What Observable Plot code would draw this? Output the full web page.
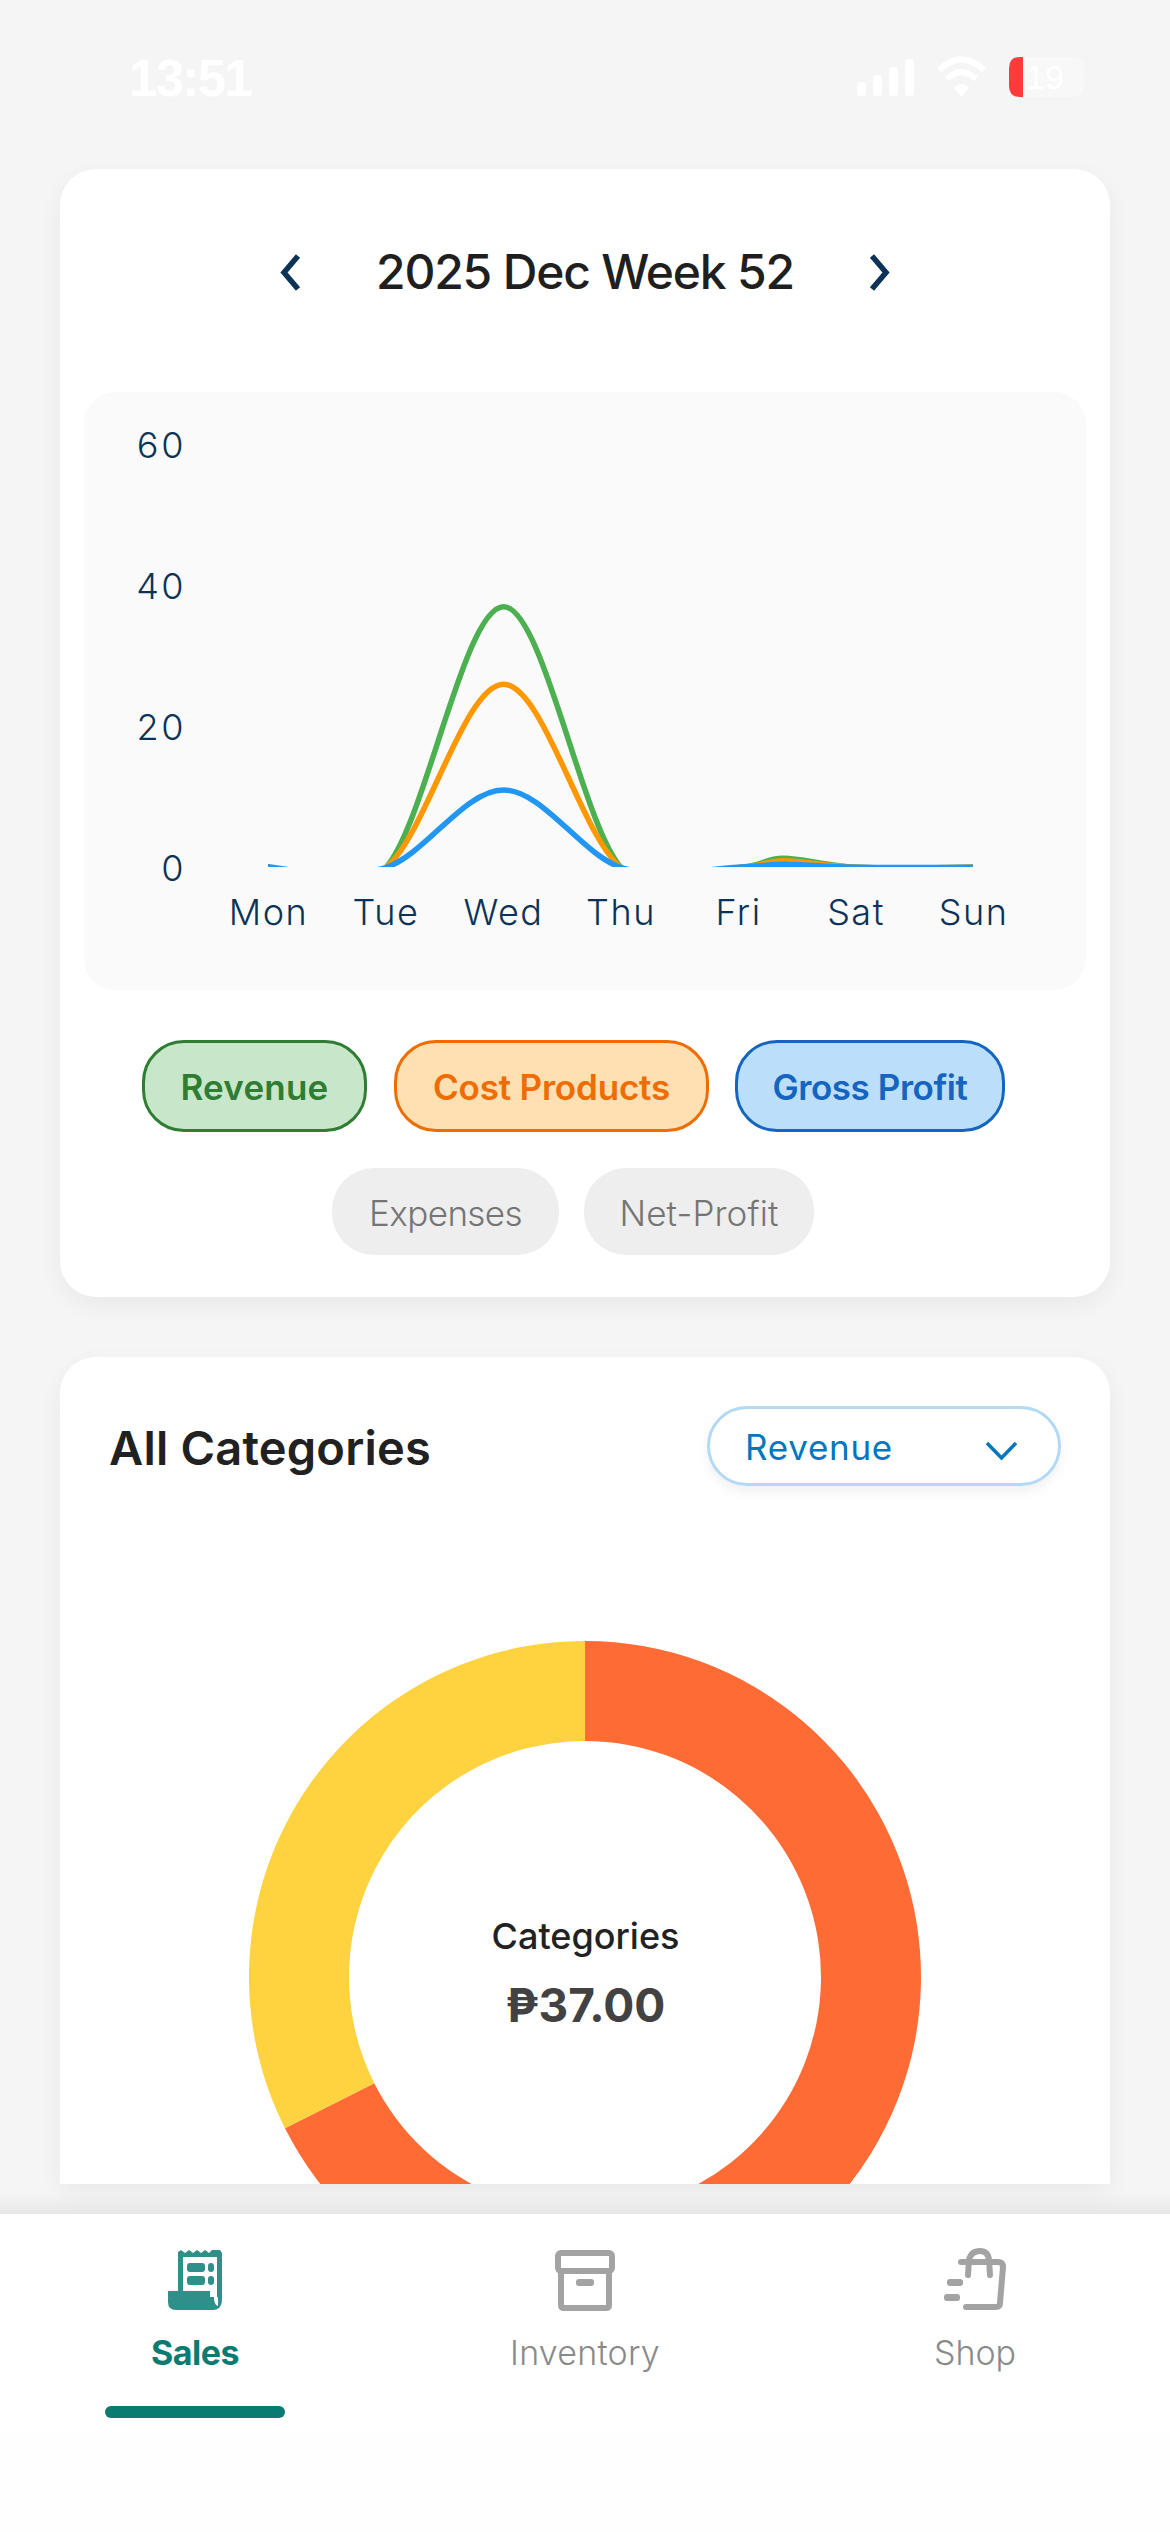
<!DOCTYPE html>
<html>
<head>
<meta charset="utf-8">
<script src="https://cdn.jsdelivr.net/npm/d3@7"></script>
<script src="https://cdn.jsdelivr.net/npm/@observablehq/plot@0.6"></script>
<style>
html,body{margin:0;padding:0;background:#f5f5f5;}
body{position:relative;width:1170px;height:2532px;overflow:hidden;font-family:Inter,"Noto Sans",sans-serif;}
.abs{position:absolute;}
.t{position:absolute;transform:translate(-50%,-50%);white-space:nowrap;line-height:1;}
.card{position:absolute;left:60px;width:1050px;background:#fff;box-shadow:0 8px 24px rgba(0,0,0,.05);}
.pill{position:absolute;box-sizing:border-box;border-radius:42px;}
svg{display:block;}
</style>
</head>
<body>
<div id="root"></div>
<script>
// ---- data ----
const dayLabels = ["Mon","Tue","Wed","Thu","Fri","Sat","Sun"];
const dayTicks = [0,1,2,3,4,5,6];
const yTicks = [0,20,40,60];
const dayPos = [0,1,2,3,4,4.38,5,6];
const revenue = [0,0,37,0,0,1.3,0.03,0.03];
const costProducts = [0,0,26,0,0,0.95,0.03,0.03];
const grossProfit = [0.1,0,11,0,0.05,0.45,0.03,0.05];
const seriesColors = ["#4CAF50","#FF9800","#2196F3"];
const chips = ["Revenue","Cost Products","Gross Profit","Expenses","Net-Profit"];
const sliceNames = ["Category A","Category B"];
const sliceValues = [25,12];
const sliceColors = ["#FF6B35","#FFD23F"];
const totalLabel = "₱37.00";
const centerLabel = "Categories";
const weekLabel = "2025 Dec Week 52";
const navLabels = ["Sales","Inventory","Shop"];

const root = document.getElementById("root");
function el(tag, cls, css, parent, html){
  const e=document.createElement(tag); if(cls)e.className=cls; Object.assign(e.style,css||{});
  if(html!=null)e.innerHTML=html; (parent||root).appendChild(e); return e;
}
// text centred on (x,y), letter-spacing fitted to a target width
const fits=[];
function txt(s,x,y,size,weight,color,w,parent,family){
  const e=el("div","t",{left:x+"px",top:y+"px",fontSize:size+"px",fontWeight:weight,color:color,fontFamily:family||'Inter,"Noto Sans",sans-serif'},parent,s);
  if(w)fits.push([e,w,s.length]);
  return e;
}
function svg(x,y,w,h,inner){
  return el("div","abs",{left:x+"px",top:y+"px",width:w+"px",height:h+"px"},root,
   `<svg width="${w}" height="${h}" viewBox="0 0 ${w} ${h}">${inner}</svg>`);
}

// status bar
txt("13:51",190,78,51,700,"#fff",122,root,'"Liberation Sans",sans-serif');
svg(850,50,250,55,`
 <g fill="#fff"><rect x="7" y="32" width="9" height="14" rx="3"/><rect x="23" y="25" width="9" height="21" rx="3"/><rect x="39" y="17" width="9" height="29" rx="3"/><rect x="55" y="9" width="9" height="37" rx="3"/></g>
 <g fill="none" stroke="#fff" stroke-width="6"><path d="M89 20 Q111 -1 134 20"/><path d="M97 29 Q111 15 126 29"/></g>
 <path d="M104 38 Q111 30 119 38 L111.500 47Z" fill="#fff"/>
 <rect x="159" y="7" width="75" height="40" rx="11" fill="#f8f8f8"/>
 <path d="M173 7 L170 7 Q159 7 159 18 L159 36 Q159 47 170 47 L173 47Z" fill="#ff3b3b"/>`);
txt("19",1045,77,34,500,"#fff",38,root,'"Liberation Sans",sans-serif');

// card 1
el("div","card",{top:"169px",height:"1128px",borderRadius:"36px"});
txt(weekLabel,585,272,48,500,"#1f1f1f",418);
svg(270,245,640,55,`<g fill="none" stroke="#0b3357" stroke-width="5.500">
 <path d="M28 11 L14 27.500 L28 44"/><path d="M602 11 L616 27.500 L602 44"/></g>`);
el("div","abs",{left:"84px",top:"392px",width:"1002px",height:"598px",background:"#fafafa",borderRadius:"32px"});

// line chart
const days = d => dayLabels[d];
const lines = [revenue,costProducts,grossProfit];
const chart = Plot.plot({
  width:1002, height:598, marginLeft:184, marginRight:113, marginTop:53, marginBottom:122,
  style:{background:"transparent",fontFamily:'Inter,"Noto Sans",sans-serif',letterSpacing:"1.500px"},
  x:{domain:[0,6]},
  y:{domain:[0,60]},
  marks:[
    Plot.axisX({ticks:dayTicks,tickFormat:days,tickSize:0,tickPadding:32,fontSize:36,color:"#0b3357",label:null,fontWeight:300}),
    Plot.axisY({ticks:yTicks,tickSize:0,tickPadding:83,dy:2,fontSize:36,color:"#0b3357",label:null,fontWeight:300}),
    ...lines.map((vals,i)=>Plot.line(vals,{x:dayPos,y:vals,stroke:seriesColors[i],strokeWidth:5.5,curve:"cardinal",clip:true}))
  ]
});
const chartBox = el("div","abs",{left:"84px",top:"391px"});
chartBox.appendChild(chart);

// legend chips
const chipBoxes=[[142,1040,225,92],[394,1040,315,92],[735,1040,270,92],[332,1168,227,87],[584,1168,230,87]];
const chipStyle=[["#C8E6C9","#2E7D32"],["#FFE0B2","#EF6C00"],["#BBDEFB","#1565C0"],["#EEEEEE","#757575"],["#EEEEEE","#757575"]];
const chipW=[148,237,195,153,159];
chips.forEach((c,i)=>{
  const [x,y,w,h]=chipBoxes[i],[bg,fg]=chipStyle[i],on=i<3;
  el("div","pill",{left:x+"px",top:y+"px",width:w+"px",height:h+"px",background:bg,border:on?`3px solid ${fg}`:"none"});
  txt(c,x+w/2,y+h/2+1,35,on?600:300,fg,chipW[i]);
});

// card 2
const card2 = el("div","card",{top:"1357px",height:"827px",borderRadius:"36px 36px 0 0",overflow:"hidden"});
const donut = Plot.plot({
  width:1050, height:1240, margin:0,
  style:{background:"transparent",fontFamily:'Inter,"DejaVu Sans",sans-serif'},
  x:{domain:[0,d3.sum(sliceValues)],range:[0,2*Math.PI],axis:null},
  color:{domain:sliceNames,range:sliceColors},
  marks:[
    Plot.barX(sliceValues,{x:d=>d,fill:(d,i)=>sliceNames[i],
      render(index,scales,values,dim){
        const arc=d3.arc().innerRadius(236).outerRadius(336);
        const g=d3.create("svg:g").attr("transform",`translate(${dim.width/2},${dim.height/2})`);
        for(const i of index){
          g.append("path").attr("fill",values.fill[i])
           .attr("d",arc({startAngle:values.x1[i],endAngle:values.x2[i]}));
        }
        return g.node();
      }}),
    Plot.text([centerLabel],{frameAnchor:"middle",dy:-40,fontSize:36,fontWeight:500,fill:"#222"}),
    Plot.text([totalLabel],{frameAnchor:"middle",dy:30,fontSize:46,fontWeight:700,fill:"#424242"})
  ]
});
el("div","abs",{left:"0",top:"0"},card2).appendChild(donut);
txt("All Categories",270,1447,47,600,"#212121",322);
el("div","pill",{left:"707px",top:"1406px",width:"354px",height:"80px",border:"3px solid #B3DAF5",background:"#fff",borderRadius:"40px",boxShadow:"0 6px 12px rgba(0,0,0,.06)"});
txt("Revenue",819,1447,35,400,"#0277BD",148);
svg(980,1435,44,30,`<path d="M7 8 L21.500 23 L36 8" fill="none" stroke="#0277BD" stroke-width="3.500"/>`);

// bottom nav
el("div","abs",{left:"0",top:"2194px",width:"1170px",height:"20px",background:"linear-gradient(to bottom,rgba(0,0,0,0),rgba(0,0,0,.06))"});
el("div","abs",{left:"0",top:"2214px",width:"1170px",height:"318px",background:"#fff"});
el("div","abs",{left:"0",top:"2430px",width:"1170px",height:"102px",background:"#fefefe"});
const navX=[195,585,975], navW=[88,150,82];
navLabels.forEach((s,i)=>txt(s,navX[i],2353,34,i==0?700:300,i==0?"#0A7B70":"#8a8a8a",navW[i]));
el("div","abs",{left:"105px",top:"2406px",width:"180px",height:"12px",borderRadius:"6px",background:"#0A7B70"});
svg(160,2245,70,70,`<g>
  <path d="M18 7 L21 5 L25 8 L29 5 L33 8 L37 5 L41 8 L45 5 L49 8 L52 5 L60 5 L62 8 L62 55 Q62 65 52 65 L18 65Z" fill="#2E9088"/>
  <rect x="23" y="12" width="34" height="40" fill="#fff"/>
  <path d="M54 55 Q55 60 58 61 L58 52 L54 52Z" fill="#fff"/>
  <path d="M8 46 L50 46 L50 58 Q50 65 56 65 L16 65 Q8 65 8 57Z" fill="#2E9088"/>
  <rect x="27" y="18" width="18" height="9" rx="3" fill="#2E9088"/><rect x="27" y="31" width="18" height="9" rx="3" fill="#2E9088"/>
  <rect x="48" y="18" width="6" height="9" rx="3" fill="#2E9088"/><rect x="48" y="31" width="6" height="9" rx="3" fill="#2E9088"/>
</g>`);
svg(550,2245,70,70,`<g fill="none" stroke="#A3A3A3" stroke-width="6">
  <rect x="8" y="8" width="54" height="18" rx="3"/>
  <path d="M11 26 L11 60 Q11 63 14 63 L56 63 Q59 63 59 60 L59 26"/></g>
  <rect x="26" y="34" width="18" height="7" rx="3" fill="#A3A3A3"/>`);
svg(940,2245,70,70,`<g fill="none" stroke="#A3A3A3" stroke-width="6" stroke-linecap="round">
  <path d="M21 17 L58 17 Q63 17 63 22 L60 58 Q60 62 56 62 L26 62"/>
  <path d="M28 30 L29 15 Q31 6 40 6 Q48 6 49 15 L50 30"/></g>
  <rect x="7" y="34" width="16" height="7" rx="3" fill="#A3A3A3"/><rect x="4" y="49" width="16" height="7" rx="3" fill="#A3A3A3"/>`);

// fit text widths
for(const [e,w,n] of fits){
  const m=e.getBoundingClientRect().width;
  e.style.letterSpacing=((w-m)/n)+"px";
}
</script>
</body>
</html>
